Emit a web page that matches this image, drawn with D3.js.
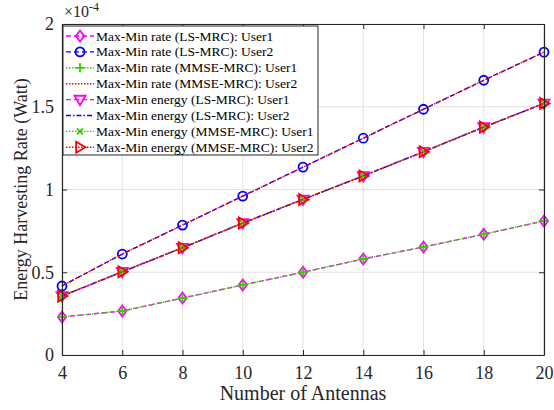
<!DOCTYPE html>
<html>
<head>
<meta charset="utf-8">
<script src="https://cdn.jsdelivr.net/npm/d3@7"></script>
<style>
  body { margin: 0; background: #fff; }
  svg { font-family: "Liberation Serif", "Times New Roman", serif; }
</style>
</head>
<body>
<svg id="chart" width="554" height="410"></svg>
<script>
// Energy harvesting rate vs number of antennas (values in units of 1e-4 W)
const antennas = [4, 6, 8, 10, 12, 14, 16, 18, 20];
const xTicks = [4, 6, 8, 10, 12, 14, 16, 18, 20];
const yTicks = [0, 0.5, 1, 1.5, 2];

const rateUser1 = [0.23, 0.266, 0.344, 0.423, 0.50, 0.58, 0.653, 0.73, 0.81];
const rateUser2 = [0.417, 0.61, 0.785, 0.96, 1.135, 1.31, 1.485, 1.66, 1.83];
const energyUser = [0.356, 0.503, 0.648, 0.797, 0.94, 1.082, 1.228, 1.377, 1.52];

const seriesNames = [
    "Max-Min rate (LS-MRC): User1",
    "Max-Min rate (LS-MRC): User2",
    "Max-Min rate (MMSE-MRC): User1",
    "Max-Min rate (MMSE-MRC): User2",
    "Max-Min energy (LS-MRC): User1",
    "Max-Min energy (LS-MRC): User2",
    "Max-Min energy (MMSE-MRC): User1",
    "Max-Min energy (MMSE-MRC): User2"
];
const seriesValues = [rateUser1, rateUser2, rateUser1, rateUser2, energyUser, energyUser, energyUser, energyUser];

const styles = [
    { color: "#ff00ff", dash: "5,3", marker: "diamond" },
    { color: "#0000ff", dash: "5,3", marker: "circle" },
    { color: "#33cc00", dash: "1.5,1.5", marker: "plus" },
    { color: "#ff0000", dash: "1.5,1.5", marker: null },
    { color: "#ff00ff", dash: "5,3", marker: "triDown" },
    { color: "#0000ff", dash: "5,2,1.5,2", marker: null },
    { color: "#33cc00", dash: "1.5,1.5", marker: "cross" },
    { color: "#ff0000", dash: "1.5,1.5", marker: "triRight" }
];

const margin = { top: 24, right: 10, bottom: 55, left: 62 };
const width = 554;
const height = 410;
const innerWidth = width - margin.left - margin.right;
const innerHeight = height - margin.top - margin.bottom;

const svg = d3.select("#chart");
const g = svg.append("g").attr("transform", `translate(${margin.left},${margin.top})`);

const x = d3.scaleLinear().domain([4, 20]).range([0, innerWidth]);
const y = d3.scaleLinear().domain([0, 2]).range([innerHeight, 0]);

// grid
g.append("g").selectAll("line").data(xTicks).enter().append("line")
    .attr("x1", d => x(d)).attr("x2", d => x(d))
    .attr("y1", 0).attr("y2", innerHeight)
    .attr("stroke", "#e3e3e3").attr("stroke-width", 1);
g.append("g").selectAll("line").data(yTicks).enter().append("line")
    .attr("y1", d => y(d)).attr("y2", d => y(d))
    .attr("x1", 0).attr("x2", innerWidth)
    .attr("stroke", "#e3e3e3").attr("stroke-width", 1);

// marker shapes drawn around a point
function markerPath(type, cx, cy) {
    const p = d3.path();
    if (type === "diamond") {
        const r = 5.5;
        p.moveTo(cx, cy - r); p.lineTo(cx + r * 0.75, cy); p.lineTo(cx, cy + r); p.lineTo(cx - r * 0.75, cy); p.closePath();
    } else if (type === "circle") {
        p.arc(cx, cy, 4.5, 0, 2 * Math.PI);
    } else if (type === "plus") {
        const r = 4.5;
        p.moveTo(cx - r, cy); p.lineTo(cx + r, cy); p.moveTo(cx, cy - r); p.lineTo(cx, cy + r);
    } else if (type === "cross") {
        const r = 3;
        p.moveTo(cx - r, cy - r); p.lineTo(cx + r, cy + r); p.moveTo(cx - r, cy + r); p.lineTo(cx + r, cy - r);
    } else if (type === "triDown") {
        const r = 5.5;
        p.moveTo(cx - r, cy - r * 0.7); p.lineTo(cx + r, cy - r * 0.7); p.lineTo(cx, cy + r); p.closePath();
    } else if (type === "triRight") {
        const r = 5.5;
        p.moveTo(cx - r * 0.7, cy - r); p.lineTo(cx + r, cy); p.lineTo(cx - r * 0.7, cy + r); p.closePath();
    }
    return p.toString();
}

const line = d3.line().x((d, i) => x(antennas[i])).y(d => y(d));
const plot = g.append("g");

seriesValues.forEach((vals, k) => {
    const s = styles[k];
    plot.append("path")
        .attr("d", line(vals))
        .attr("fill", "none")
        .attr("stroke", s.color)
        .attr("stroke-width", 1.4)
        .attr("stroke-dasharray", s.dash);
    if (s.marker) {
        plot.append("g").selectAll("path").data(vals).enter().append("path")
            .attr("d", (d, i) => markerPath(s.marker, x(antennas[i]), y(d)))
            .attr("fill", "none")
            .attr("stroke", s.color)
            .attr("stroke-width", 1.8);
    }
});

// axes box
const axisColor = "#262626";
g.append("g").attr("transform", `translate(0,${innerHeight})`)
    .call(d3.axisBottom(x).tickValues(xTicks).tickSizeInner(-5).tickSizeOuter(0).tickPadding(11));
g.append("g")
    .call(d3.axisLeft(y).tickValues(yTicks).tickFormat(d => d).tickSizeInner(-5).tickSizeOuter(0).tickPadding(8));
const axT = g.append("g").call(d3.axisTop(x).tickValues(xTicks).tickSizeInner(-5).tickSizeOuter(0));
const axR = g.append("g").attr("transform", `translate(${innerWidth},0)`)
    .call(d3.axisRight(y).tickValues(yTicks).tickSizeInner(-5).tickSizeOuter(0));
axT.selectAll("text").remove();
axR.selectAll("text").remove();
g.selectAll(".domain").attr("stroke", axisColor).attr("stroke-width", 1.2);
g.selectAll(".tick line").attr("stroke", axisColor);
g.selectAll(".tick text").attr("fill", axisColor).style("font-family", "Liberation Serif").style("font-size", "18px");

// exponent label
const expo = g.append("text").attr("x", 2).attr("y", -7).attr("fill", axisColor)
    .style("font-size", "16px");
expo.append("tspan").text("\u00d710");
expo.append("tspan").attr("dy", -6).style("font-size", "12px").text("-4");

// axis titles
svg.append("text")
    .attr("x", margin.left + innerWidth / 2).attr("y", 400)
    .attr("text-anchor", "middle").attr("fill", axisColor)
    .style("font-size", "20px").text("Number of Antennas");
svg.append("text")
    .attr("transform", `translate(27,${margin.top + innerHeight / 2}) rotate(-90)`)
    .attr("text-anchor", "middle").attr("fill", axisColor)
    .style("font-size", "18px").text("Energy Harvesting Rate (Watt)");

// legend
const legend = svg.append("g").attr("transform", "translate(63,26)");
legend.append("rect").attr("width", 255).attr("height", 129)
    .attr("fill", "#fff").attr("stroke", axisColor).attr("stroke-width", 1);
seriesNames.forEach((name, k) => {
    const s = styles[k];
    const ly = 10 + k * 15.9;
    const row = legend.append("g");
    row.append("line").attr("x1", 3).attr("x2", 31).attr("y1", ly).attr("y2", ly)
        .attr("stroke", s.color).attr("stroke-width", 1.4).attr("stroke-dasharray", s.dash);
    if (s.marker) {
        row.append("path").attr("d", markerPath(s.marker, 17, ly))
            .attr("fill", "none").attr("stroke", s.color).attr("stroke-width", 1.8);
    }
    row.append("text").attr("x", 33).attr("y", ly + 4.5)
        .attr("fill", "#000").style("font-size", "13.5px").text(name);
});
</script>
</body>
</html>
